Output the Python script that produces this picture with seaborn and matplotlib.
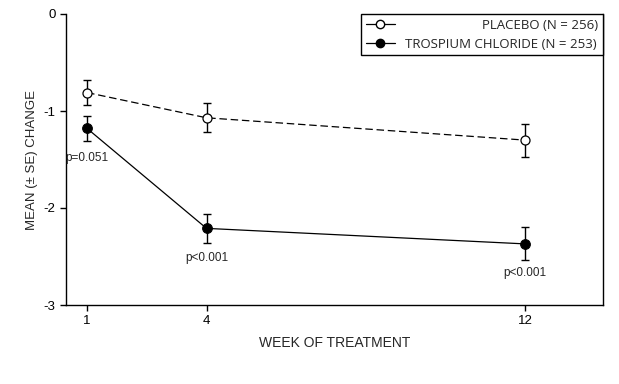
import numpy as np
import pandas as pd
import matplotlib
matplotlib.use("Agg")
import matplotlib.pyplot as plt
from matplotlib.lines import Line2D
from matplotlib.text import Text
import seaborn as sns

weeks = [1, 4, 12]
placebo_mean = [-0.81, -1.07, -1.30]
placebo_se = [0.13, 0.15, 0.17]
trospium_mean = [-1.18, -2.21, -2.37]
trospium_se = [0.13, 0.15, 0.17]
p_labels = ["p=0.051", "p<0.001", "p<0.001"]
legend_labels = ['PLACEBO (N = 256)', 'TROSPIUM CHLORIDE (N = 253)']

sns.set_style("ticks")
plt.rcParams['font.family'] = ['Liberation Sans', 'DejaVu Sans']

df = pd.DataFrame({
    'week': weeks * 2,
    'mean': placebo_mean + trospium_mean,
    'group': [legend_labels[0]] * 3 + [legend_labels[1]] * 3,
})

fig = plt.figure(figsize=(6.19, 3.84), dpi=100)
ax = fig.add_axes([66 / 619, 1 - 305 / 384, (603 - 66) / 619, (305 - 14) / 384])

# error bars first, markers go on top
ax.errorbar(weeks, placebo_mean, yerr=placebo_se, fmt='none', ecolor='black',
            elinewidth=1, capsize=3, capthick=1, zorder=2)
ax.errorbar(weeks, trospium_mean, yerr=trospium_se, fmt='none', ecolor='black',
            elinewidth=1, capsize=3, capthick=1, zorder=2)

sns.lineplot(data=df[df['group'] == legend_labels[0]], x='week', y='mean',
             ax=ax, color='black', linewidth=0.9, linestyle=(0, (6, 3)),
             marker='o', markersize=6.5, markerfacecolor='white',
             markeredgecolor='black', markeredgewidth=0.9, zorder=3)
sns.lineplot(data=df[df['group'] == legend_labels[1]], x='week', y='mean',
             ax=ax, color='black', linewidth=0.9,
             marker='o', markersize=7, markerfacecolor='black',
             markeredgecolor='black', zorder=3)

for w, m, lab in zip(weeks, trospium_mean, p_labels):
    ax.annotate(lab, xy=(w, m), xytext=(0, -21), textcoords='offset points',
                ha='center', va='center', fontsize=8.5)

ax.set_xlim(0.47, 13.96)
ax.set_ylim(-3, 0)
ax.set_xticks(weeks)
ax.set_yticks([0, -1, -2, -3])
ax.set_yticklabels(['0', '-1', '-2', '-3'])
ax.tick_params(labelsize=9.5, length=4, width=1, colors='black')
ax.set_xlabel('WEEK OF TREATMENT', fontsize=10, labelpad=6)
ax.set_ylabel('MEAN (± SE) CHANGE', fontsize=9.5, labelpad=4)
ax.spines['top'].set_visible(False)
for sp in ['left', 'bottom', 'right']:
    ax.spines[sp].set_linewidth(1)
    ax.spines[sp].set_color('black')

# legend text is right aligned in the original: pad the short label with spaces
leg_prop = {'family': ['Open Sans', 'DejaVu Sans'], 'size': 9.5}
renderer = fig.canvas.get_renderer()
def text_width(s):
    t = Text(0, 0, s, fontfamily=leg_prop['family'], fontsize=leg_prop['size'])
    t.set_figure(fig)
    return t.get_window_extent(renderer).width
gap = text_width(legend_labels[1]) - text_width(legend_labels[0])
n_sp = int(round(gap / (text_width('a ' * 10 + 'a') - text_width('a' * 11)) * 10))
labels = [' ' * n_sp + legend_labels[0], legend_labels[1]]

handles = [
    Line2D([], [], color='black', linewidth=0.9, marker='o', markersize=6,
           markerfacecolor='white', markeredgecolor='black'),
    Line2D([], [], color='black', linewidth=0.9, marker='o', markersize=6,
           markerfacecolor='black', markeredgecolor='black'),
]
leg = ax.legend(handles, labels, loc='upper right', borderaxespad=0,
                fancybox=False, edgecolor='black', framealpha=1,
                handlelength=2.2, labelspacing=0.45, borderpad=0.35,
                prop=leg_prop)
leg.get_frame().set_linewidth(1)

fig.savefig('out.png', dpi=100)
